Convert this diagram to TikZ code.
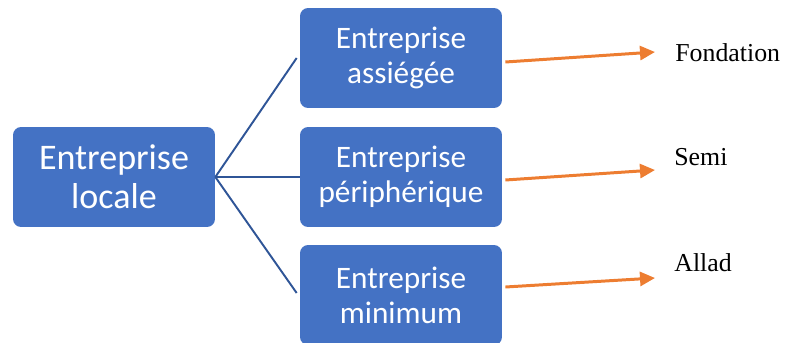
\documentclass[tikz,border=0pt]{standalone}
\usepackage{fontspec}
\setmainfont{Carlito}
\newfontfamily\lblfont{Liberation Serif}
\usetikzlibrary{arrows.meta, calc}
\definecolor{boxBlue}{HTML}{4472C4}
\definecolor{lineBlue}{HTML}{2F5597}
\definecolor{arrOrange}{HTML}{ED7D31}

\tikzset{
  firmbox/.style={fill=boxBlue, rounded corners=0.16cm, text=white,
    minimum width=4.04cm, minimum height=2cm, align=center, inner sep=0pt},
  bigbox/.style={firmbox, font=\fontsize{20.5}{22}\selectfont},
  subbox/.style={firmbox, font=\fontsize{17.8}{20}\selectfont},
  branch/.style={lineBlue, line width=1.1pt},
  outarr/.style={arrOrange, line width=1.7pt, -{Triangle[length=0.3cm, width=0.28cm]}},
  outlbl/.style={anchor=west, inner sep=0pt, font=\lblfont\fontsize{14.7}{16}\selectfont}
}

\begin{document}
\begin{tikzpicture}[x=0.02cm, y=-0.02cm]
    \useasboundingbox (0,0) rectangle (787,342);

    % boxes
    \node[bigbox] (loc) at (114,177) {Entreprise\\locale};
    \node[subbox] (asg) at (401,58) {Entreprise\\assiégée};
    \node[subbox] (per) at (401,177) {Entreprise\\périphérique};
    \node[subbox] (min) at (401,295) {Entreprise\\minimum};

    % branches
    \draw[branch] (loc.east) -- ($(asg.west)+(-3,0)$);
    \draw[branch] (loc.east) -- (per.west);
    \draw[branch] (loc.east) -- ($(min.west)+(-3,-2)$);

    % outcomes
    \node[outlbl] (fnd) at (675,53) {Fondation};
    \node[outlbl] (smi) at (674,157) {Semi};
    \node[outlbl] (ald) at (674,263) {Allad};

    \coordinate (tipA) at (655,52);
    \coordinate (tipB) at (655,170);
    \coordinate (tipC) at (655,278);

    \draw[outarr] ($(asg.east)+(3,4)$) -- (tipA);
    \draw[outarr] ($(per.east)+(3,3)$) -- (tipB);
    \draw[outarr] ($(min.east)+(3,-8)$) -- (tipC);
\end{tikzpicture}
\end{document}
